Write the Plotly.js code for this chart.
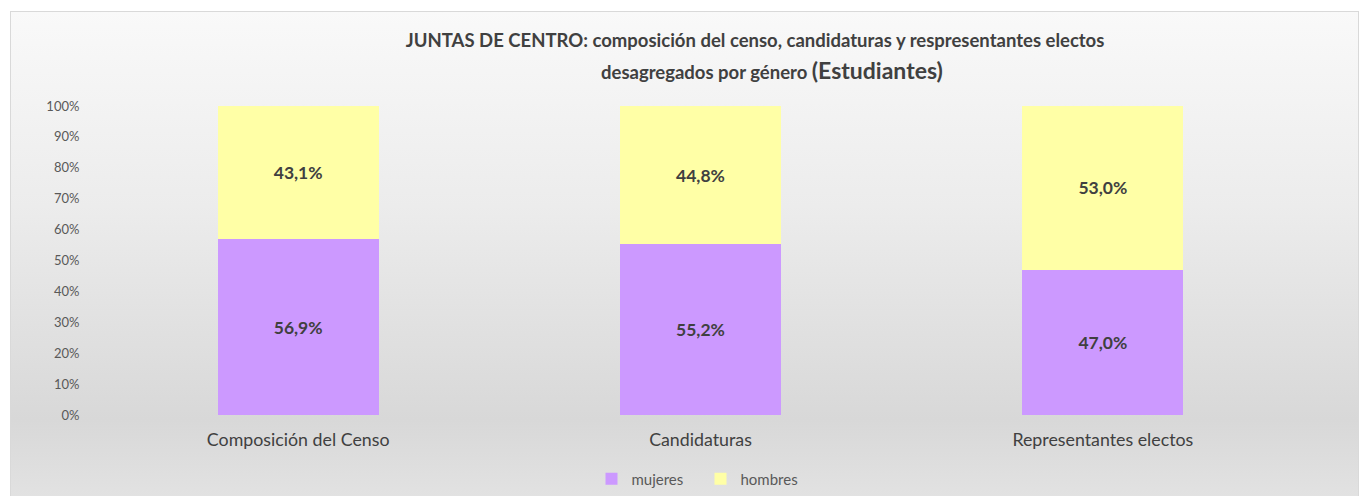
<!DOCTYPE html>
<html><head><meta charset="utf-8">
<script src="https://cdn.plot.ly/plotly-3.0.1.min.js"></script>
<style>
html,body{margin:0;padding:0;background:#fff;}
#bg{position:absolute;left:10px;top:11px;width:1347px;height:485px;border:1px solid #d9d9d9;border-bottom:none;
background:linear-gradient(to bottom,#f9f9f9 0%,#ececec 40%,#d8d8d8 84%,#e2e2e2 100%);}
#chart{position:absolute;left:0;top:0;width:1359px;height:496px;}
</style></head>
<body>
<div id="bg"></div>
<div id="chart"></div>
<script>
const categories = ['Composición del Censo', 'Candidaturas', 'Representantes electos'];
const mujeres = [56.9, 55.2, 47.0];
const hombres = [43.1, 44.8, 53.0];
const seriesNames = ['mujeres', 'hombres'];
const yTickVals = [0,10,20,30,40,50,60,70,80,90,100];
const yTickText = yTickVals.map(v => v + '%');

const FONT = 'Lato, "Liberation Sans", sans-serif';
function fmt(v){ return v.toFixed(1).replace('.', ',') + '%'; }

const traces = [
  {type:'bar', name:seriesNames[0], x:categories, y:mujeres, marker:{color:'#cc99ff'},
   text:mujeres.map(fmt), textposition:'inside', insidetextanchor:'middle', textangle:0,
   textfont:{family:FONT, size:17.5, color:'#404040', weight:'bold'}, hoverinfo:'none'},
  {type:'bar', name:seriesNames[1], x:categories, y:hombres, marker:{color:'#ffffa6'},
   text:hombres.map(fmt), textposition:'inside', insidetextanchor:'middle', textangle:0,
   textfont:{family:FONT, size:17.5, color:'#404040', weight:'bold'}, hoverinfo:'none'}
];

const layout = {
  width:1359, height:496,
  paper_bgcolor:'rgba(0,0,0,0)', plot_bgcolor:'rgba(0,0,0,0)',
  margin:{l:97, r:55, t:106, b:81, autoexpand:false},
  barmode:'stack', bargap:0.6,
  font:{family:FONT, color:'#595959'},
  title:{text:'<b>JUNTAS DE CENTRO: composición del censo, candidaturas y respresentantes electos</b>',
    font:{family:FONT, size:18.5, color:'#404040'}, x:741/1359, xanchor:'center', xref:'paper',
    y:1-34/496, yanchor:'top'},
  annotations:[{text:'<b>desagregados por género <span style="font-size:23px">(Estudiantes)</span></b>',
    xref:'paper', yref:'paper', x:(772-97)/1207, y:(415-70)/309, xanchor:'center', yanchor:'middle',
    showarrow:false, font:{family:FONT, size:18.5, color:'#404040'}}],
  xaxis:{type:'category', automargin:false, tickfont:{family:FONT, size:17.8, color:'#404040'}, showgrid:false, zeroline:false,
    showline:false, ticks:'outside', ticklen:9, tickcolor:'rgba(0,0,0,0)'},
  yaxis:{range:[0,100], automargin:false, tickvals:yTickVals, ticktext:yTickText, showgrid:false, zeroline:false, showline:false,
    tickfont:{family:FONT, size:13, color:'#595959'}, ticks:'outside', ticklen:14, tickcolor:'rgba(0,0,0,0)'},
  showlegend:true,
  legend:{orientation:'h', x:0.5, xanchor:'center', xref:'paper', yref:'container', y:1-479/496, yanchor:'middle',
    font:{family:FONT, size:15, color:'#595959'}, itemwidth:30, entrywidth:64, traceorder:'normal', itemclick:false},
};
Plotly.newPlot('chart', traces, layout, {displayModeBar:false, staticPlot:true});
</script>
</body></html>
